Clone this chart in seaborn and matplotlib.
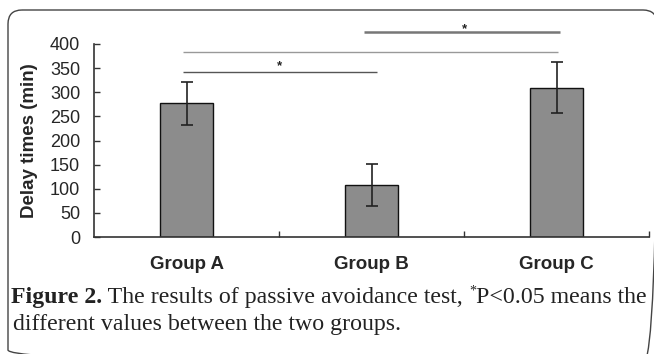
import matplotlib
matplotlib.use("Agg")
import matplotlib.pyplot as plt
from matplotlib.patches import FancyBboxPatch
import pandas as pd
import seaborn as sns

# values (minutes)
groups = ["Group A", "Group B", "Group C"]
delay_mean = [277, 108, 309]
delay_err = [45, 44, 53]
y_ticks = [0, 50, 100, 150, 200, 250, 300, 350, 400]

# significance brackets: (start, end, height)
sig_lines = [(-0.02, 1.03, 343), (-0.02, 2.01, 383), (0.96, 2.02, 424)]
sig_stars = [(0.5, 354), (1.505, 431)]

sns.set_style("white")
plt.rcParams["font.family"] = ["Liberation Sans", "DejaVu Sans"]

df = pd.DataFrame({"group": groups, "delay": delay_mean})

fig = plt.figure(figsize=(6.54, 3.54), dpi=100)
ax = fig.add_axes([94 / 654, 1 - 237 / 354, 555 / 654, 193 / 354])

sns.barplot(data=df, x="group", y="delay", color="#8c8c8c", saturation=1,
            edgecolor="#111111", linewidth=1.0, width=0.29, errorbar=None, ax=ax)
ax.errorbar(range(len(groups)), delay_mean, yerr=delay_err, fmt="none",
            ecolor="#222222", elinewidth=1.2, capsize=4, capthick=1.2)

ax.set_xlim(-0.5, 2.5)
ax.set_ylim(0, 400)
ax.set_yticks(y_ticks)
ax.tick_params(axis="y", direction="in", length=4.5, width=1, color="#333333",
               labelsize=13, pad=10, left=True)
ax.set_xticks([0.5, 1.5, 2.5], minor=True)
ax.tick_params(axis="x", which="minor", direction="in", length=4.5, width=1,
               color="#333333", bottom=True)
ax.tick_params(axis="x", which="major", length=0, pad=14)
for lbl in ax.get_xticklabels():
    lbl.set_fontweight("bold")
    lbl.set_fontsize(13.5)
ax.set_xlabel("")
ax.set_ylabel("Delay times (min)", fontsize=13.5, fontweight="bold")
ax.yaxis.set_label_coords(-0.10, 0.5)
for s in ["top", "right"]:
    ax.spines[s].set_visible(False)
for s in ["left", "bottom"]:
    ax.spines[s].set_color("#333333")
    ax.spines[s].set_linewidth(1.2)

line_styles = [dict(color="#555555", lw=1.0), dict(color="#999999", lw=1.0),
               dict(color="#777777", lw=1.8)]
for (x0, x1, h), st in zip(sig_lines, line_styles):
    ax.plot([x0, x1], [h, h], clip_on=False, solid_capstyle="butt", **st)
for x, h in sig_stars:
    ax.text(x, h, "*", ha="center", va="center", fontsize=9.5, color="#222222",
            fontweight="bold", clip_on=False)

# overlay in pixel coordinates for frame and caption
ov = fig.add_axes([0, 0, 1, 1], facecolor="none", zorder=5)
ov.set_xlim(0, 654)
ov.set_ylim(354, 0)
ov.axis("off")
ov.add_patch(FancyBboxPatch((8, 10), 649, 354, boxstyle="round,pad=0,rounding_size=14",
                            fill=False, edgecolor="#444444", linewidth=1.0,
                            clip_on=True))

serif = ["Liberation Serif", "DejaVu Serif"]
cap_size = 17.2
fig.canvas.draw()
renderer = fig.canvas.get_renderer()
inv = ov.transData.inverted()


def put(x, y, s, **kw):
    t = ov.text(x, y, s, family=serif, fontsize=kw.pop("size", cap_size),
                va="baseline", ha="left", color="#222222", **kw)
    bb = t.get_window_extent(renderer)
    return inv.transform((bb.x1, bb.y0))[0]


x = put(11, 303, "Figure 2.", fontweight="bold")
x = put(x, 303, " The results of passive avoidance test, ")
x = put(x, 295, "*", size=10)
put(x, 303, "P<0.05 means the")
put(13, 330, "different values between the two groups.")

fig.savefig("out.png", dpi=100)
